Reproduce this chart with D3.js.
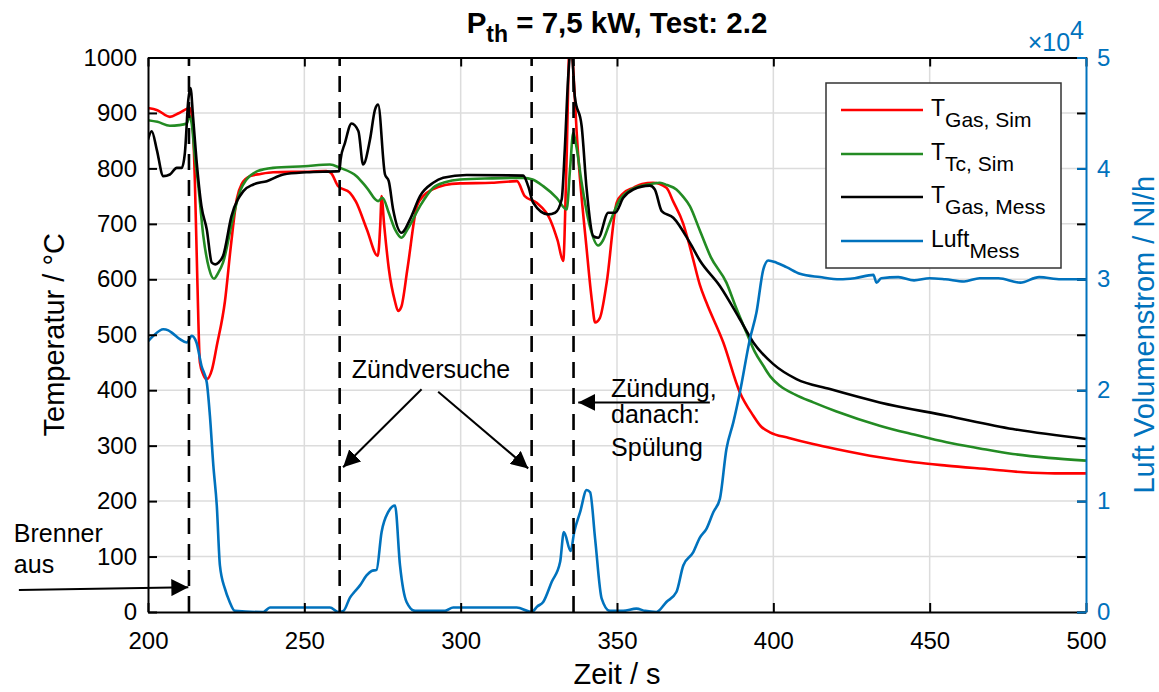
<!DOCTYPE html>
<html><head><meta charset="utf-8">
<script src="https://cdn.jsdelivr.net/npm/d3@7"></script>
<style>
body{margin:0;background:#fff;}
text{font-family:"Liberation Sans",Arial,Helvetica,sans-serif;}
</style></head>
<body><svg id="c" width="1159" height="692"></svg>
<script>
// ---------- data ----------
const xTicks = [200,250,300,350,400,450,500];
const yLeftTicks = [0,100,200,300,400,500,600,700,800,900,1000];
const yRightTicks = [0,1,2,3,4,5];
const seriesNames = ["Gas, Sim","Tc, Sim","Gas, Mess","Mess"];

const tGasSim = [[200,909],[203,905],[207,893],[210,900],[213.4,909],[214.3,880],[215,775],[215.8,594],[216.6,450],[217.7,428],[218.8,420],[220.5,438],[222,480],[224.6,560],[226.5,660],[228.4,745],[230,772],[232.6,786],[236,790],[240,793],[250,794],[257,795],[258.5,792],[260.8,768],[264.6,756],[266.5,740],[270,690],[273.5,642],[274.3,700],[274.7,750],[275.5,700],[277,620],[279,560],[280,543],[281,550],[283,620],[286,732],[288,750],[291,762],[295,770],[299.8,773],[310,774],[318,777],[320.5,750],[324.3,738],[328.6,708],[331,670],[332.8,633],[333.8,800],[335,1050],[336,980],[337.1,865],[340.3,654],[342,560],[343,522],[344.5,530],[346.7,594],[349.9,738],[352,755],[355.2,765],[358,772],[361.5,774],[365.8,765],[368,740],[371.2,700],[373,665],[374.4,635],[376.5,590],[378.6,558],[384,486],[389.3,396],[393.6,354],[396,335],[398.9,324],[405,314],[412.7,303],[420,294],[434,279],[445,270],[455.4,264],[470,257],[480,252],[490,250],[500,250]];

const tTcSim = [[200,887],[203,884],[207,877],[210,878],[212.4,881],[213.3,895],[214,880],[215,820],[216,774],[217.7,678],[219.5,620],[221.1,601],[222.5,612],[224,630],[227.3,714],[229.5,760],[231.5,780],[235,795],[240,801],[250,804],[258.2,807],[261.4,801],[266.7,786],[270,765],[273.6,741],[275,747],[277,720],[279,690],[281.1,675],[283,690],[287,732],[291.2,765],[295,775],[299.8,780],[310,782],[320,783],[323,780],[326.4,768],[330.7,747],[333.9,726],[335,800],[336,864],[337,840],[338.7,774],[341.3,696],[344,661],[345.5,670],[347.7,702],[350.9,744],[354,760],[357.3,768],[361,772],[363.7,774],[366,770],[369,762],[371,750],[373.3,732],[376.5,688],[380,640],[385,594],[388,550],[391.4,504],[394,470],[396.8,444],[399,425],[402.1,408],[407,392],[412.8,378],[420,362],[434,336],[445,320],[455.4,306],[466,295],[476.6,285],[488,278],[500,273]];

const tGasMess = [[200,852],[201.2,867],[202.8,834],[204.9,786],[207,789],[209.2,801],[210.8,801],[211.8,828],[212.9,924],[213.6,945],[214.4,894],[215.5,816],[217.1,732],[218.8,690],[220.4,630],[221.5,627],[222.5,630],[224,642],[226.7,714],[230.5,759],[233.7,771],[238,777],[243.3,789],[250.7,793],[261.2,795],[261.6,816],[263,846],[265.1,881],[267.3,867],[268.8,807],[271,852],[272.6,906],[273.6,915],[275.8,789],[277,777],[278.4,726],[281.1,684],[283.8,708],[287,750],[291.2,774],[294.4,783],[301.9,788],[320,787],[321.6,768],[323.2,738],[328,717],[330.2,720],[332.3,744],[333.3,834],[334.4,966],[335.4,1020],[336.5,930],[338.7,876],[340.3,762],[342.4,678],[344,675],[347.2,720],[349.4,720],[352,747],[355.2,762],[360.5,769],[362.1,762],[364.3,723],[368,711],[373.3,666],[376.5,634],[382.9,588],[389.3,528],[393.6,486],[400,447],[407.4,420],[418.1,402],[434,378],[455.4,354],[476.6,330],[500,312]];

// air flow in 1e4 Nl/h
const luftMess = [[200,2.44],[201.7,2.49],[204.9,2.55],[206.5,2.54],[208,2.51],[210.2,2.46],[212.4,2.43],[214,2.49],[215.5,2.43],[217.1,2.22],[218.8,2.07],[219.8,1.77],[220.9,1.32],[222,0.96],[223,0.42],[224.6,0.21],[226,0.1],[227.8,0.01],[236.9,0],[239,0.04],[258.2,0.04],[260.9,0],[262.5,0.01],[264.6,0.13],[266,0.18],[267.8,0.24],[269.9,0.33],[271.5,0.37],[273.1,0.38],[274.7,0.72],[276.8,0.9],[279,0.96],[280.6,0.42],[282.7,0.09],[285.4,0.01],[295,0.01],[297.6,0.04],[317.9,0.04],[322.7,0],[324.5,0.05],[326.4,0.09],[329.1,0.27],[331.8,0.45],[333,0.72],[335.2,0.55],[336.3,0.72],[338.2,0.9],[340.3,1.1],[341.4,1.08],[343,0.66],[345.1,0.12],[347.7,0.01],[352,0.01],[356.2,0.03],[359,0.01],[362.6,0],[365.8,0.09],[369,0.18],[371.2,0.42],[374.4,0.54],[376.5,0.67],[378.6,0.75],[380.8,0.9],[382.9,1.02],[385,1.47],[387.2,1.71],[389.3,1.98],[392.5,2.46],[394.6,2.7],[396.8,3.09],[398.4,3.17],[401,3.15],[404.2,3.11],[408.5,3.05],[414.9,3.02],[421.3,3.0],[426,3.01],[432,3.04],[433,2.97],[434.5,3.01],[440,3.02],[445,2.99],[450,3.01],[455,3.0],[461,2.98],[466,3.01],[472,3.01],[479,2.97],[485,3.02],[492,3.0],[500,3.0]];

const eventTimes = [213.1, 261.3, 322.7, 336.1];

// ---------- layout ----------
const W = 1159, H = 692;
const L = 148, R = 1086, T = 57.5, B = 612;
const svg = d3.select("#c");
const x = d3.scaleLinear().domain([200,500]).range([L,R]);
const yL = d3.scaleLinear().domain([0,1000]).range([B,T]);
const yR = d3.scaleLinear().domain([0,5]).range([B,T]);

const BLUE = "#0072BD", RED = "#FF0000", GREEN = "#238B23";

svg.append("defs").append("clipPath").attr("id","clip")
  .append("rect").attr("x",L).attr("y",T).attr("width",R-L).attr("height",B-T);
const mk2 = svg.select("defs").append("marker").attr("id","ah2")
  .attr("viewBox","0 0 10 10").attr("refX",10).attr("refY",5)
  .attr("markerWidth",17).attr("markerHeight",17).attr("markerUnits","userSpaceOnUse")
  .attr("orient","auto");
mk2.append("path").attr("d","M0,0 L10,5 L0,10 Z").attr("fill","#000");

// grid
const grid = svg.append("g");
grid.selectAll(".gx").data(xTicks.slice(1,-1)).enter().append("line")
  .attr("x1",d=>x(d)).attr("x2",d=>x(d)).attr("y1",T).attr("y2",B)
  .attr("stroke","#dcdcdc").attr("stroke-width",1.5);
grid.selectAll(".gy").data(yLeftTicks.slice(1,-1)).enter().append("line")
  .attr("y1",d=>yL(d)).attr("y2",d=>yL(d)).attr("x1",L).attr("x2",R)
  .attr("stroke","#dcdcdc").attr("stroke-width",1.5);

// lines
const plot = svg.append("g").attr("clip-path","url(#clip)");
const lineL = d3.line().x(d=>x(d[0])).y(d=>yL(d[1])).curve(d3.curveMonotoneX);
const lineR = d3.line().x(d=>x(d[0])).y(d=>yR(d[1])).curve(d3.curveMonotoneX);
const seriesL = [[tGasSim,RED],[tTcSim,GREEN],[tGasMess,"#000"]];
seriesL.forEach(([d,c])=>plot.append("path").datum(d).attr("d",lineL)
  .attr("fill","none").attr("stroke",c).attr("stroke-width",2.6).attr("stroke-linejoin","round"));
plot.append("path").datum(luftMess).attr("d",lineR)
  .attr("fill","none").attr("stroke",BLUE).attr("stroke-width",2.6).attr("stroke-linejoin","round");

// event dashed lines
svg.append("g").selectAll("line").data(eventTimes).enter().append("line")
  .attr("x1",d=>x(d)).attr("x2",d=>x(d)).attr("y1",B).attr("y2",T)
  .attr("stroke","#000").attr("stroke-width",2.6).attr("stroke-dasharray","16,10");

// axes
const tickLen = 9;
const ax = svg.append("g");
ax.append("g").attr("transform",`translate(0,${B})`)
  .call(d3.axisBottom(x).tickValues(xTicks).tickFormat(d3.format("d")).tickSizeInner(-tickLen).tickSizeOuter(0).tickPadding(20))
  .call(g=>{g.select(".domain").attr("stroke-width",2);g.selectAll("line").attr("stroke-width",2);
    g.selectAll("text").attr("font-size",24).attr("fill","#000");});
ax.append("g").attr("transform",`translate(0,${T})`)
  .call(d3.axisTop(x).tickValues(xTicks).tickSizeInner(-tickLen).tickSizeOuter(0).tickFormat(""))
  .call(g=>{g.select(".domain").attr("stroke-width",2);g.selectAll("line").attr("stroke-width",2);});
ax.append("g").attr("transform",`translate(${L},0)`)
  .call(d3.axisLeft(yL).tickValues(yLeftTicks).tickFormat(d3.format("d")).tickSizeInner(-tickLen).tickSizeOuter(0).tickPadding(11))
  .call(g=>{g.select(".domain").attr("stroke-width",2);g.selectAll("line").attr("stroke-width",2);
    g.selectAll("text").attr("font-size",24).attr("fill","#000");});
ax.append("g").attr("transform",`translate(${R},0)`)
  .call(d3.axisRight(yL).tickValues(yLeftTicks).tickSizeInner(-tickLen).tickSizeOuter(0).tickFormat(""))
  .call(g=>{g.select(".domain").remove();g.selectAll("line").attr("stroke-width",2);});
ax.append("g").attr("transform",`translate(${R},0)`)
  .call(d3.axisRight(yR).tickValues(yRightTicks).tickFormat(d3.format("d")).tickSizeInner(-tickLen).tickSizeOuter(0).tickPadding(11))
  .call(g=>{g.select(".domain").attr("stroke",BLUE).attr("stroke-width",2);
    g.selectAll("line").attr("stroke",BLUE).attr("stroke-width",2);
    g.selectAll("text").attr("font-size",24).attr("fill",BLUE);});

// x10^4
const ex = svg.append("text").attr("x",R-2).attr("y",T-7).attr("text-anchor","end")
  .attr("fill",BLUE).attr("font-size",25);
ex.append("tspan").text("\u00d710");
ex.append("tspan").attr("dy",-12).attr("font-size",25).text("4");

// labels
svg.append("text").attr("x",(L+R)/2).attr("y",684).attr("text-anchor","middle")
  .attr("font-size",29).text("Zeit / s");
svg.append("text").attr("transform",`translate(64,${(T+B)/2}) rotate(-90)`)
  .attr("text-anchor","middle").attr("font-size",29).text("Temperatur / \u00b0C");
svg.append("text").attr("transform",`translate(1154,${(T+B)/2}) rotate(-90)`)
  .attr("text-anchor","middle").attr("font-size",29).attr("fill",BLUE).text("Luft Volumenstrom / Nl/h");

// title
const tt = svg.append("text").attr("x",(L+R)/2).attr("y",33).attr("text-anchor","middle")
  .attr("font-size",29.5).attr("font-weight","bold");
tt.append("tspan").text("P");
tt.append("tspan").attr("dy",9).attr("font-size",23).text("th");
tt.append("tspan").attr("dy",-9).text(" = 7,5 kW, Test: 2.2");

// annotations (data coordinates)
const ann = svg.append("g").attr("font-size",25);
ann.append("text").attr("x",x(157.1)).attr("y",yL(126)).text("Brenner");
ann.append("text").attr("x",x(157.1)).attr("y",yL(70)).text("aus");
ann.append("line").attr("x1",x(158.7)).attr("y1",yL(39.7)).attr("x2",x(212.9)).attr("y2",yL(44.5))
  .attr("stroke","#000").attr("stroke-width",2).attr("marker-end","url(#ah2)");
ann.append("text").attr("x",x(265.2)).attr("y",yL(422)).text("Z\u00fcndversuche");
ann.append("line").attr("x1",x(287.5)).attr("y1",yL(401.6)).attr("x2",x(262.4)).attr("y2",yL(261))
  .attr("stroke","#000").attr("stroke-width",2).attr("marker-end","url(#ah2)");
ann.append("line").attr("x1",x(292.8)).attr("y1",yL(397.3)).attr("x2",x(321.6)).attr("y2",yL(259))
  .attr("stroke","#000").attr("stroke-width",2).attr("marker-end","url(#ah2)");
ann.append("text").attr("x",x(348.1)).attr("y",yL(388)).text("Z\u00fcndung,");
ann.append("text").attr("x",x(348.1)).attr("y",yL(340)).text("danach:");
ann.append("text").attr("x",x(348.1)).attr("y",yL(282)).text("Sp\u00fclung");
ann.append("line").attr("x1",x(379.7)).attr("y1",yL(378)).attr("x2",x(337.6)).attr("y2",yL(378))
  .attr("stroke","#000").attr("stroke-width",2).attr("marker-end","url(#ah2)");

// legend
const lg = svg.append("g").attr("transform","translate(826,83)");
lg.append("rect").attr("width",235).attr("height",185).attr("fill","#fff")
  .attr("stroke","#333").attr("stroke-width",1.5);
const legItems = [["T",seriesNames[0],RED],["T",seriesNames[1],GREEN],["T",seriesNames[2],"#000"],["Luft",seriesNames[3],BLUE]];
const legY = [27,71,114,158];
legItems.forEach((it,i)=>{
  lg.append("line").attr("x1",15).attr("x2",97).attr("y1",legY[i]).attr("y2",legY[i])
    .attr("stroke",it[2]).attr("stroke-width",2.6);
  const t = lg.append("text").attr("x",105).attr("y",legY[i]+6).attr("font-size",23);
  t.append("tspan").text(it[0]);
  t.append("tspan").attr("dy",11).attr("font-size",21).text(it[1]);
});
</script></body></html>
